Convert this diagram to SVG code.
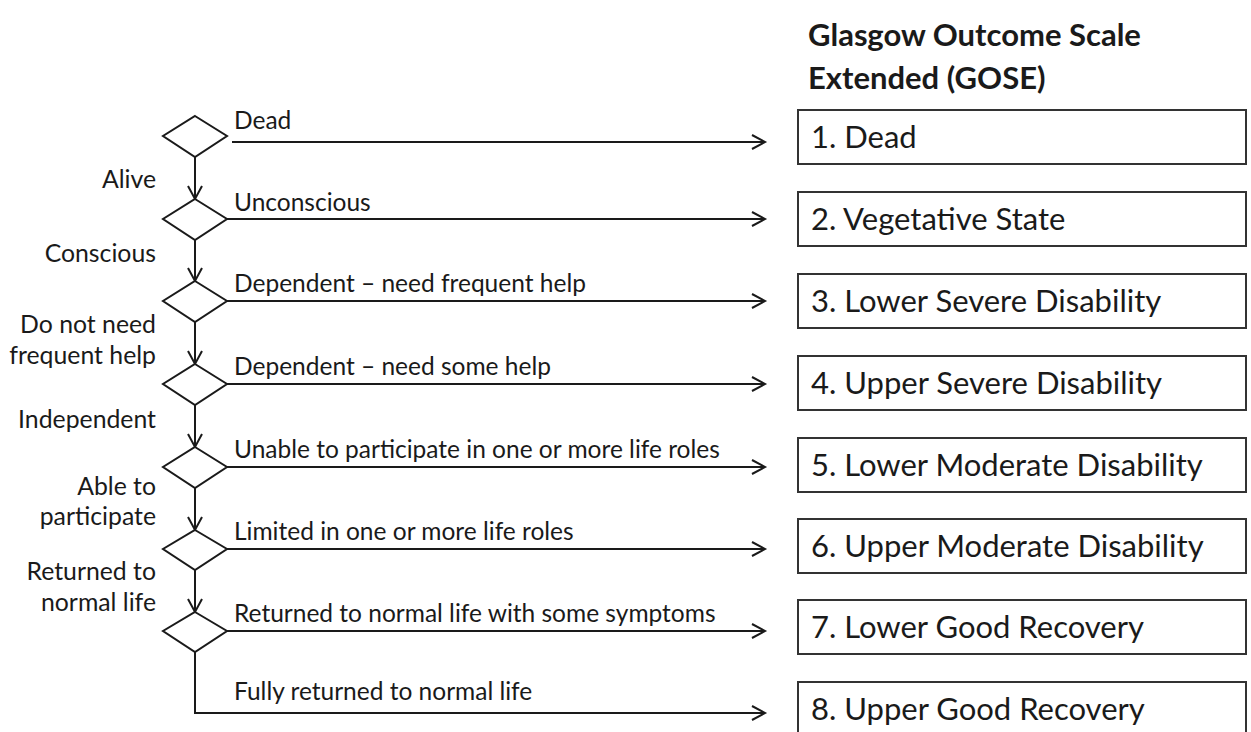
<svg xmlns="http://www.w3.org/2000/svg" width="1251" height="732" viewBox="0 0 1251 732">
<defs>
<marker id="arr" markerUnits="userSpaceOnUse" markerWidth="20" markerHeight="20" refX="14" refY="8" orient="auto">
<path d="M1,1 L14,8 L1,15" fill="none" stroke="#1a1a1a" stroke-width="2"/>
</marker>
<style>
.line{fill:none;stroke:#1a1a1a;stroke-width:2}
.dia{fill:#fff;stroke:#1a1a1a;stroke-width:2}
.box{fill:#fff;stroke:#333;stroke-width:2}
.lbl{font-family:Lato,"Open Sans",sans-serif;font-size:24.5px;fill:#1a1a1a}
.side{font-family:Lato,"Open Sans",sans-serif;font-size:24.8px;fill:#1a1a1a;text-anchor:end}
.btxt{font-family:Lato,"Open Sans",sans-serif;font-size:31px;fill:#1a1a1a}
.title{font-family:Lato,"Open Sans",sans-serif;font-size:31px;font-weight:bold;fill:#1a1a1a}
</style>
</defs>
<rect width="1251" height="732" fill="#fff"/>
<g id="title">
<text class="title" x="808" y="46">Glasgow Outcome Scale</text>
<text class="title" x="808" y="89">Extended (GOSE)</text>
</g>
<g id="connectors">
<path class="line" marker-end="url(#arr)" d="M195,157 V199"/>
<path class="line" marker-end="url(#arr)" d="M195,240 V281"/>
<path class="line" marker-end="url(#arr)" d="M195,322 V364"/>
<path class="line" marker-end="url(#arr)" d="M195,405 V447"/>
<path class="line" marker-end="url(#arr)" d="M195,488 V530"/>
<path class="line" marker-end="url(#arr)" d="M195,570 V612"/>
<path class="line" marker-end="url(#arr)" d="M232,142 H765"/>
<path class="line" marker-end="url(#arr)" d="M227,219 H765"/>
<path class="line" marker-end="url(#arr)" d="M227,301 H765"/>
<path class="line" marker-end="url(#arr)" d="M227,384 H765"/>
<path class="line" marker-end="url(#arr)" d="M227,467 H765"/>
<path class="line" marker-end="url(#arr)" d="M227,549 H765"/>
<path class="line" marker-end="url(#arr)" d="M227,631 H765"/>
<path class="line" marker-end="url(#arr)" d="M195,652 V713 H765"/>
<text class="lbl" x="234" y="129">Dead</text>
<text class="lbl" x="234" y="211">Unconscious</text>
<text class="lbl" x="234" y="292">Dependent – need frequent help</text>
<text class="lbl" x="234" y="375">Dependent – need some help</text>
<text class="lbl" x="234" y="458">Unable to participate in one or more life roles</text>
<text class="lbl" x="234" y="540">Limited in one or more life roles</text>
<text class="lbl" x="234" y="622">Returned to normal life with some symptoms</text>
<text class="lbl" x="234" y="700">Fully returned to normal life</text>
<text class="side" x="156" y="188">Alive</text>
<text class="side" x="156" y="262">Conscious</text>
<text class="side" x="156" y="333">Do not need</text>
<text class="side" x="156" y="364">frequent help</text>
<text class="side" x="156" y="428">Independent</text>
<text class="side" x="156" y="495">Able to</text>
<text class="side" x="156" y="525">participate</text>
<text class="side" x="156" y="580">Returned to</text>
<text class="side" x="156" y="611">normal life</text>
</g>
<g id="d1"><path class="dia" d="M195,116 L227,136 L195,157 L163,136 Z"/></g>
<g id="d2"><path class="dia" d="M195,199 L227,219 L195,240 L163,219 Z"/></g>
<g id="d3"><path class="dia" d="M195,281 L227,301 L195,322 L163,301 Z"/></g>
<g id="d4"><path class="dia" d="M195,364 L227,384 L195,405 L163,384 Z"/></g>
<g id="d5"><path class="dia" d="M195,447 L227,467 L195,488 L163,467 Z"/></g>
<g id="d6"><path class="dia" d="M195,530 L227,549 L195,570 L163,549 Z"/></g>
<g id="d7"><path class="dia" d="M195,612 L227,631 L195,652 L163,631 Z"/></g>
<g id="b1"><rect class="box" x="798" y="110" width="448" height="54"/><text class="btxt" x="811" y="148">1. Dead</text></g>
<g id="b2"><rect class="box" x="798" y="192" width="448" height="54"/><text class="btxt" x="811" y="230">2. Vegetative State</text></g>
<g id="b3"><rect class="box" x="798" y="274" width="448" height="54"/><text class="btxt" x="811" y="312">3. Lower Severe Disability</text></g>
<g id="b4"><rect class="box" x="798" y="356" width="448" height="54"/><text class="btxt" x="811" y="394">4. Upper Severe Disability</text></g>
<g id="b5"><rect class="box" x="798" y="438" width="448" height="54"/><text class="btxt" x="811" y="476">5. Lower Moderate Disability</text></g>
<g id="b6"><rect class="box" x="798" y="519" width="448" height="54"/><text class="btxt" x="811" y="557">6. Upper Moderate Disability</text></g>
<g id="b7"><rect class="box" x="798" y="600" width="448" height="54"/><text class="btxt" x="811" y="638">7. Lower Good Recovery</text></g>
<g id="b8"><rect class="box" x="798" y="682" width="448" height="54"/><text class="btxt" x="811" y="720">8. Upper Good Recovery</text></g>
</svg>
